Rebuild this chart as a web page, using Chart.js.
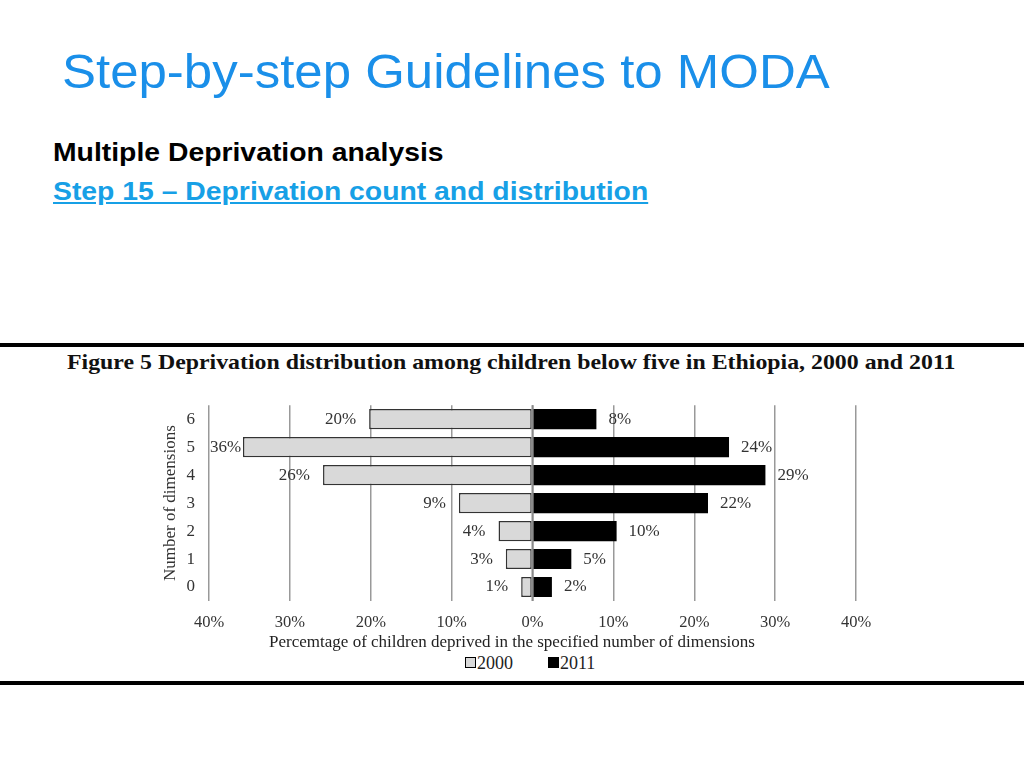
<!DOCTYPE html>
<html>
<head>
<meta charset="utf-8">
<script src="https://cdn.jsdelivr.net/npm/chart.js@4.4.1/dist/chart.umd.min.js"></script>
<style>
  body { margin: 0; background: #fff; width: 1024px; height: 768px; overflow: hidden; position: relative; }
  .heading { position: absolute; left: 62px; top: 44px; font-family: "Liberation Sans", Arial, sans-serif; font-size: 48px; color: #1a8fe9; white-space: nowrap; transform: scaleX(1.062); transform-origin: left top; }
  .sub { position: absolute; left: 53px; font-family: "Liberation Sans", Arial, sans-serif; font-weight: bold; font-size: 26px; white-space: nowrap; transform: scaleX(1.09); transform-origin: left top; }
  .sub1 { top: 137px; color: #000; }
  .sub2 { top: 176px; color: #17a0e6; text-decoration: underline; }
  .rule { position: absolute; left: 0; width: 1024px; height: 4px; background: #000; }
  .figtitle { position: absolute; left: 67px; top: 350px; font-family: "Liberation Serif", "Times New Roman", serif; font-weight: bold; font-size: 21px; color: #111; white-space: nowrap; transform: scaleX(1.135); transform-origin: left top; }
  #wrap { position: absolute; left: 150px; top: 389px; width: 740px; height: 263px; }
  .legend { position: absolute; top: 653px; left: 465px; font-family: "Liberation Serif", "Times New Roman", serif; font-size: 18px; color: #222; white-space: nowrap; }
  .legend span.box { display: inline-block; width: 9px; height: 9px; border: 1px solid #000; margin-right: 1px; vertical-align: 1px; }
</style>
</head>
<body>
<div class="heading">Step-by-step Guidelines to MODA</div>
<div class="sub sub1">Multiple Deprivation analysis</div>
<div class="sub sub2">Step 15 – Deprivation count and distribution</div>
<div class="rule" style="top:343px"></div>
<div class="figtitle">Figure 5 Deprivation distribution among children below five in Ethiopia, 2000 and 2011</div>
<div class="rule" style="top:681px"></div>
<div id="wrap"><canvas id="chart"></canvas></div>
<div class="legend" id="legend"></div>
<script>
const dimensions = ['6', '5', '4', '3', '2', '1', '0'];
const series = ['2000', '2011'];
const values2000 = [20.2, 35.8, 25.9, 9.1, 4.2, 3.3, 1.4];
const values2011 = [7.9, 24.3, 28.8, 21.7, 10.4, 4.8, 2.4];
const labels2000 = ['20%', '36%', '26%', '9%', '4%', '3%', '1%'];
const labels2011 = ['8%', '24%', '29%', '22%', '10%', '5%', '2%'];
const xTicks = [-40, -30, -20, -10, 0, 10, 20, 30, 40];
const colors = ['#d9d9d9', '#000'];
const xTitle = 'Percemtage of children deprived in the specified number of dimensions';

const serif = '"Liberation Serif", "Times New Roman", serif';

// legend in html, square then year
document.getElementById('legend').innerHTML = series.map((s, i) =>
    `<span class="box" style="background:${colors[i]}"></span>${s}`
).join('<span style="display:inline-block;width:35px"></span>');

const barLabels = {
    id: 'barLabels',
    afterDatasetsDraw(chart) {
        const ctx = chart.ctx;
        const area = chart.chartArea;
        const x0 = chart.scales.x.getPixelForValue(0);
        ctx.save();
        // zero line sits over the bars
        ctx.strokeStyle = '#8a8a8a';
        ctx.lineWidth = 2;
        ctx.beginPath();
        ctx.moveTo(x0, area.top);
        ctx.lineTo(x0, area.bottom);
        ctx.stroke();

        ctx.font = '17px ' + serif;
        ctx.fillStyle = '#333';
        ctx.textBaseline = 'middle';
        ctx.textAlign = 'left';
        chart.getDatasetMeta(0).data.forEach((bar, i) => {
            const w = ctx.measureText(labels2000[i]).width;
            let left = bar.x - 13 - w;
            if (left < area.left + 1) left = area.left + 1;
            ctx.fillText(labels2000[i], left, bar.y);
        });
        chart.getDatasetMeta(1).data.forEach((bar, i) => {
            ctx.fillText(labels2011[i], bar.x + 12, bar.y);
        });

        // axis title, sits a bit left of the plot centre in the original
        ctx.fillStyle = '#222';
        ctx.textAlign = 'center';
        ctx.fillText(xTitle, 362, area.bottom + 42);
        ctx.restore();
    }
};

new Chart(document.getElementById('chart'), {
    type: 'bar',
    data: {
        labels: dimensions,
        datasets: [{
            label: series[0],
            data: values2000.map(v => -v),
            backgroundColor: colors[0],
            borderColor: '#333',
            borderWidth: 1.5,
            borderSkipped: false,
            barPercentage: 0.72,
            categoryPercentage: 1
        }, {
            label: series[1],
            data: values2011,
            backgroundColor: colors[1],
            borderWidth: 0,
            barPercentage: 0.72,
            categoryPercentage: 1
        }]
    },
    options: {
        indexAxis: 'y',
        responsive: true,
        maintainAspectRatio: false,
        animation: false,
        layout: { padding: { top: 4, right: 34 } },
        scales: {
            x: {
                stacked: true,
                min: -40,
                max: 40,
                afterBuildTicks: axis => { axis.ticks = xTicks.map(v => ({ value: v })); },
                afterFit: axis => { axis.height = 51; },
                ticks: {
                    padding: 12,
                    color: '#333',
                    font: { family: serif, size: 16.5 },
                    callback: v => Math.abs(v) + '%'
                },
                grid: { color: '#999', lineWidth: 1.5, drawTicks: false },
                border: { display: false }
            },
            y: {
                stacked: true,
                afterFit: axis => { axis.width = 59; },
                ticks: {
                    padding: 6,
                    color: '#333',
                    font: { family: serif, size: 17 }
                },
                grid: { display: false },
                border: { display: false },
                title: {
                    display: true,
                    text: 'Number of dimensions',
                    color: '#333',
                    font: { family: serif, size: 17 },
                    padding: { top: 10, bottom: 0 }
                }
            }
        },
        plugins: {
            legend: { display: false },
            tooltip: { enabled: false }
        }
    },
    plugins: [barLabels]
});
</script>
</body>
</html>
